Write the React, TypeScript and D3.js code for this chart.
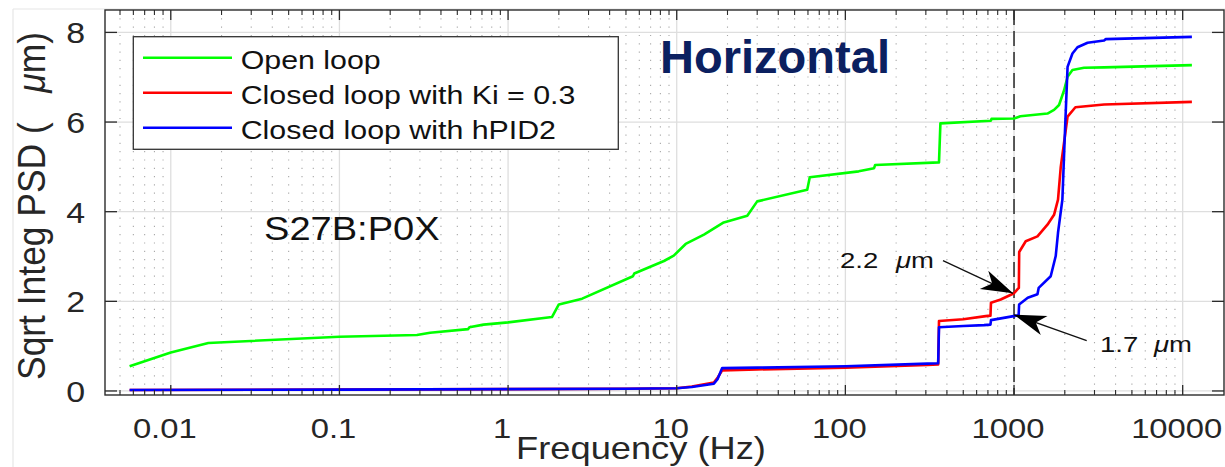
import React from 'react';
import * as d3 from 'd3';

// ---- data ----
const freqOpen = [0.0057, 0.01, 0.0167, 0.1, 0.288, 0.345, 0.58, 0.59, 0.715, 1.0, 1.82, 2.0, 2.75, 5.5, 5.6, 8.4, 9.6, 11.3, 14.5, 19.0, 26.2, 30.0, 59.4, 61.5, 120, 148, 150, 359, 366, 728, 735, 1000, 1090, 1578, 1727, 1849, 1981, 2077, 2220, 2600, 3420, 11340];
const openLoop = [0.55, 0.86, 1.07, 1.21, 1.25, 1.30, 1.38, 1.42, 1.48, 1.53, 1.65, 1.93, 2.06, 2.56, 2.62, 2.90, 3.02, 3.28, 3.49, 3.76, 3.91, 4.23, 4.49, 4.77, 4.90, 4.97, 5.04, 5.10, 5.97, 6.03, 6.07, 6.08, 6.13, 6.19, 6.27, 6.38, 6.71, 7.01, 7.16, 7.21, 7.22, 7.27];

const freqKi = [0.0057, 0.1, 1, 5, 10, 12.3, 16.6, 17.5, 18.6, 30, 100, 306, 355, 359, 500, 680, 725, 730, 834, 1000, 1050, 1068, 1073, 1173, 1377, 1578, 1727, 1823, 1893, 2077, 2312, 3420, 11340];
const closedKi = [0.02, 0.03, 0.04, 0.05, 0.06, 0.10, 0.19, 0.30, 0.46, 0.48, 0.52, 0.58, 0.59, 1.56, 1.60, 1.67, 1.68, 1.97, 2.04, 2.18, 2.27, 2.30, 3.10, 3.34, 3.45, 3.71, 3.93, 4.27, 5.0, 6.12, 6.33, 6.39, 6.45];

const freqPID = [0.0057, 0.1, 1, 5, 10, 12.3, 16.6, 17.5, 18.6, 30, 100, 306, 355, 359, 500, 664, 725, 730, 994, 1065, 1072, 1206, 1377, 1400, 1650, 1767, 1823, 1935, 2005, 2077, 2220, 2378, 2730, 3420, 3500, 11340];
const closedPID = [0.02, 0.03, 0.04, 0.05, 0.06, 0.09, 0.16, 0.27, 0.51, 0.52, 0.55, 0.61, 0.62, 1.42, 1.45, 1.47, 1.48, 1.58, 1.67, 1.69, 1.93, 2.08, 2.16, 2.30, 2.56, 3.01, 3.53, 4.27, 5.8, 7.23, 7.53, 7.67, 7.77, 7.82, 7.85, 7.90];

const xTicks = [0.01, 0.1, 1, 10, 100, 1000, 10000];
const xTickLabels = ['0.01', '0.1', '1', '10', '100', '1000', '10000'];
const yTicks = [0, 2, 4, 6, 8];
const yTickLabels = ['0', '2', '4', '6', '8'];
const legendLabels = ['Open loop', 'Closed loop with Ki = 0.3', 'Closed loop with hPID2'];
const seriesColors = ['#00ff00', '#ff0000', '#0000ff'];
const markerFreq = 1000;
const annoKi = 2.2;
const annoPID = 1.7;

const W = 1225;
const H = 467;
const FONT = '"Liberation Sans", Arial, Helvetica, sans-serif';
const SX = 1.17;

function arrowHead(sx: number, sy: number, tx: number, ty: number) {
  const dx = tx - sx, dy = ty - sy;
  const len = Math.hypot(dx, dy);
  const ux = dx / len, uy = dy / len;
  const nx = -uy, ny = ux;
  const L = 32, Wd = 10, N = 0.72;
  const p = [
    [tx, ty],
    [tx - L * ux + Wd * nx, ty - L * uy + Wd * ny],
    [tx - N * L * ux, ty - N * L * uy],
    [tx - L * ux - Wd * nx, ty - L * uy - Wd * ny],
  ];
  return 'M' + p.map((q) => q.join(',')).join('L') + 'Z';
}

export default function App() {
  const left = 105, right = 1224, top = 10, bottom = 395;
  const x = d3.scaleLog().domain([Math.pow(10, -2.39), Math.pow(10, 4.245)]).range([left, right]);
  const y = d3.scaleLinear().domain([-0.09, 8.5]).range([bottom, top]);
  const line = d3.line<[number, number]>().x((d) => x(d[0])).y((d) => y(d[1]));

  const [d0, d1] = x.domain();
  const minor: number[] = [];
  for (let e = -3; e <= 4; e++) {
    for (let k = 2; k <= 9; k++) {
      const v = k * Math.pow(10, e);
      if (v > d0 && v < d1) minor.push(v);
    }
  }

  const series = [
    { f: freqOpen, v: openLoop, c: seriesColors[0] },
    { f: freqKi, v: closedKi, c: seriesColors[1] },
    { f: freqPID, v: closedPID, c: seriesColors[2] },
  ];

  const xm = x(markerFreq);
  const a1s = [943, 260.7];
  const a1t = [xm - 1, y(annoKi) + 1];
  const a2s = [1086.7, 340.7];
  const a2t = [xm, y(annoPID)];

  return (
    <svg width={W} height={H} style={{ position: 'absolute', left: 0, top: 0, background: '#fff' }} fontFamily={FONT}>
      <line x1={13} y1={9} x2={W} y2={9} stroke="#e6e6e6" strokeWidth={1.2} />
      <line x1={13} y1={9} x2={13} y2={H} stroke="#e6e6e6" strokeWidth={1.2} />

      <defs>
        <clipPath id="plot">
          <rect x={left} y={top} width={right - left} height={bottom - top} />
        </clipPath>
      </defs>

      {minor.map((v, i) => (
        <line key={'mg' + i} x1={x(v)} x2={x(v)} y1={top} y2={bottom} stroke="#a8a8a8" strokeWidth={1.1} strokeDasharray="1.2,7.1" />
      ))}
      {xTicks.map((v, i) => (
        <line key={'gx' + i} x1={x(v)} x2={x(v)} y1={top} y2={bottom} stroke="#dedede" strokeWidth={1.3} />
      ))}
      {yTicks.map((v, i) => (
        <line key={'gy' + i} x1={left} x2={right} y1={y(v)} y2={y(v)} stroke="#dedede" strokeWidth={1.3} />
      ))}

      <line x1={xm} x2={xm} y1={top} y2={bottom} stroke="#333" strokeWidth={1.6} strokeDasharray="15,6" />

      <g clipPath="url(#plot)">
        {series.map((s, i) => (
          <path key={'s' + i} d={line(s.f.map((f, j) => [f, s.v[j]] as [number, number])) || ''} fill="none" stroke={s.c} strokeWidth={2.6} strokeLinejoin="round" />
        ))}
      </g>

      <rect x={left} y={top} width={right - left} height={bottom - top} fill="none" stroke="#2b2b2b" strokeWidth={1.4} />

      {xTicks.map((v, i) => (
        <g key={'tx' + i}>
          <line x1={x(v)} x2={x(v)} y1={bottom} y2={bottom - 10} stroke="#2b2b2b" strokeWidth={1.3} />
          <line x1={x(v)} x2={x(v)} y1={top} y2={top + 10} stroke="#2b2b2b" strokeWidth={1.3} />
        </g>
      ))}
      {minor.map((v, i) => (
        <g key={'tm' + i}>
          <line x1={x(v)} x2={x(v)} y1={bottom} y2={bottom - 5} stroke="#2b2b2b" strokeWidth={1.1} />
          <line x1={x(v)} x2={x(v)} y1={top} y2={top + 5} stroke="#2b2b2b" strokeWidth={1.1} />
        </g>
      ))}
      {yTicks.map((v, i) => (
        <g key={'ty' + i}>
          <line x1={left} x2={left + 12} y1={y(v)} y2={y(v)} stroke="#2b2b2b" strokeWidth={1.3} />
          <line x1={right} x2={right - 12} y1={y(v)} y2={y(v)} stroke="#2b2b2b" strokeWidth={1.3} />
        </g>
      ))}

      {xTicks.map((v, i) => (
        <g key={'lx' + i} transform={`translate(${x(v) - 6},438) scale(${SX},1)`}>
          <text textAnchor="middle" fontSize={28} fill="#262626">{xTickLabels[i]}</text>
        </g>
      ))}
      {yTicks.map((v, i) => (
        <g key={'ly' + i} transform={`translate(85,${y(v) + 11}) scale(${SX},1)`}>
          <text textAnchor="end" fontSize={29} fill="#262626">{yTickLabels[i]}</text>
        </g>
      ))}

      <g transform={`translate(641,459) scale(${SX},1)`}>
        <text textAnchor="middle" fontSize={31} fill="#262626">Frequency (Hz)</text>
      </g>
      <g transform={`translate(45,206) scale(${SX},1) rotate(-90)`}>
        <text textAnchor="middle" fontSize={33} fill="#262626" textLength={348} lengthAdjust="spacingAndGlyphs">
          {'Sqrt Integ PSD (\u00a0\u00a0\u00a0'}<tspan fontStyle="italic">μ</tspan>m)
        </text>
      </g>

      <rect x={133.3} y={36.7} width={485} height={112.6} fill="#fff" stroke="#333" strokeWidth={1.3} />
      {legendLabels.map((lab, i) => {
        const ly = 57.7 + i * 35;
        return (
          <g key={'lg' + i}>
            <line x1={143} x2={232} y1={ly} y2={ly} stroke={seriesColors[i]} strokeWidth={2.6} />
            <g transform={`translate(240.7,${ly + 10.8}) scale(1.19,1)`}>
              <text fontSize={25.5} fill="#111">{lab}</text>
            </g>
          </g>
        );
      })}

      <text x={660} y={72.7} fontSize={46} fontWeight="bold" fill="#0b2060" textLength={230} lengthAdjust="spacingAndGlyphs">Horizontal</text>

      <g transform={`translate(264,240) scale(1.12,1)`}>
        <text fontSize={34} fill="#111">S27B:P0X</text>
      </g>

      <line x1={a1s[0]} y1={a1s[1]} x2={a1t[0]} y2={a1t[1]} stroke="#111" strokeWidth={1.3} />
      <path d={arrowHead(a1s[0], a1s[1], a1t[0], a1t[1])} fill="#000" />
      <line x1={a2s[0]} y1={a2s[1]} x2={a2t[0]} y2={a2t[1]} stroke="#111" strokeWidth={1.3} />
      <path d={arrowHead(a2s[0], a2s[1], a2t[0], a2t[1])} fill="#000" />

      <g transform="translate(840,268) scale(1.25,1)">
        <text fontSize={22} fill="#111">{annoKi.toFixed(1)}</text>
      </g>
      <g transform="translate(896,268) scale(1.25,1)">
        <text fontSize={22} fill="#111"><tspan fontStyle="italic">μ</tspan>m</text>
      </g>
      <g transform="translate(1100,351.7) scale(1.25,1)">
        <text fontSize={22} fill="#111">{annoPID.toFixed(1)}</text>
      </g>
      <g transform="translate(1154,351.7) scale(1.25,1)">
        <text fontSize={22} fill="#111"><tspan fontStyle="italic">μ</tspan>m</text>
      </g>
    </svg>
  );
}
